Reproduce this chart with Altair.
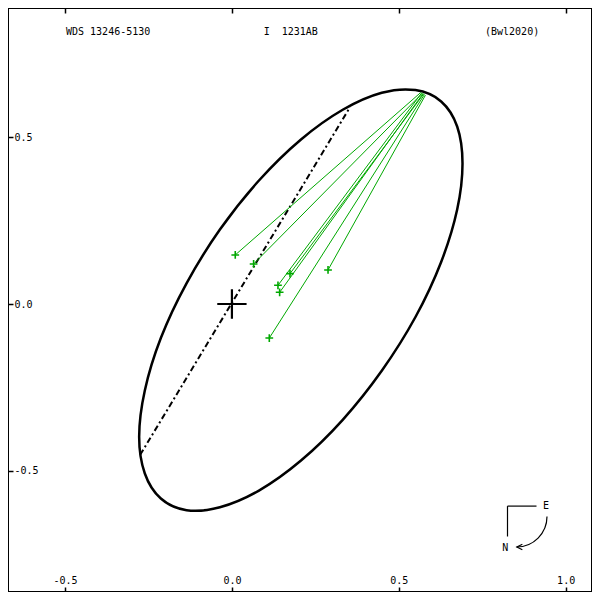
import altair as alt
import pandas as pd

# ---- data ----
ell_x = [0.691, 0.675, 0.627, 0.550, 0.449, 0.332, 0.207, 0.081, -0.036, -0.136, -0.213, -0.261,
         -0.278, -0.261, -0.213, -0.136, -0.036, 0.081, 0.207, 0.332, 0.449, 0.550, 0.627, 0.675]
ell_y = [0.421, 0.283, 0.126, -0.039, -0.200, -0.347, -0.469, -0.559, -0.609, -0.618, -0.583, -0.508,
         -0.398, -0.259, -0.102, 0.062, 0.223, 0.370, 0.493, 0.582, 0.633, 0.641, 0.607, 0.532]

obs_x = [0.010, 0.065, 0.174, 0.138, 0.143, 0.288, 0.112]
obs_y = [0.147, 0.120, 0.091, 0.056, 0.035, 0.102, -0.102]
pred_x = [0.566, 0.571, 0.575, 0.569, 0.573, 0.580, 0.577]
pred_y = [0.634, 0.632, 0.630, 0.633, 0.631, 0.626, 0.628]

node_x = [-0.275, 0.354]
node_y = [-0.452, 0.590]

primary_x = [0.0]
primary_y = [0.0]

x_ticks = [-0.5, 0.0, 0.5, 1.0]
y_ticks = [0.5, 0.0, -0.5]

titles = ["WDS 13246-5130", "I\u00a0\u00a01231AB", "(Bwl2020)"]
compass_labels = ["E", "N"]

# ---- tables ----
ell_df = pd.DataFrame({"i": list(range(len(ell_x))), "x": ell_x, "y": ell_y})
obs_df = pd.DataFrame({"ox": obs_x, "oy": obs_y, "px": pred_x, "py": pred_y})
node_df = pd.DataFrame({"x": node_x, "y": node_y})
prim_df = pd.DataFrame({"x": primary_x, "y": primary_y})
one = pd.DataFrame({"a": [0]})

GREEN = "#00a800"
FONT = "DejaVu Sans Mono"
PLUS = "M-1,0L1,0M0,-1L0,1"
LBL = "datum.value < 0 ? '-' + format(-datum.value, '.1f') : format(datum.value, '.1f')"

xs = alt.Scale(domain=[-0.671, 1.079], nice=False, zero=False)
ys = alt.Scale(domain=[-0.863, 0.887], nice=False, zero=False)

ax_bottom = alt.Axis(orient="bottom", values=x_ticks, title=None, grid=False, domain=False,
                     offset=-5, tickSize=5, tickColor="black", tickWidth=1.5,
                     labelPadding=-12, labelBaseline="middle", labelFont=FONT, labelFontSize=10,
                     labelColor="black", labelExpr=LBL, labelOverlap=False, labelFlush=False)
ax_top = alt.Axis(orient="top", values=x_ticks, title=None, grid=False, domain=False,
                  offset=-5, tickSize=5, tickColor="black", tickWidth=1.5, labels=False)
ax_left = alt.Axis(orient="left", values=y_ticks, title=None, grid=False, domain=False,
                   offset=-5, tickSize=5, tickColor="black", tickWidth=1.5,
                   labelPadding=-6, labelAlign="left", labelBaseline="middle",
                   labelFont=FONT, labelFontSize=10, labelColor="black", labelExpr=LBL,
                   labelOverlap=False, labelFlush=False)

ellipse = alt.Chart(ell_df).mark_line(interpolate="cardinal-closed", color="black",
                                      strokeWidth=2.5).encode(
    x=alt.X("x:Q", scale=xs, axis=ax_bottom),
    y=alt.Y("y:Q", scale=ys, axis=ax_left),
    order="i:Q",
)

nodes = alt.Chart(node_df).mark_line(color="black", strokeWidth=2,
                                     strokeDash=[6, 3, 2, 3]).encode(
    x=alt.X("x:Q", scale=xs, axis=ax_top),
    y=alt.Y("y:Q", scale=ys, axis=None),
)

obs_lines = alt.Chart(obs_df).mark_rule(color=GREEN, strokeWidth=1).encode(
    x=alt.X("ox:Q", scale=xs, axis=None),
    y=alt.Y("oy:Q", scale=ys, axis=None),
    x2="px:Q",
    y2="py:Q",
)

obs_pts = alt.Chart(obs_df).mark_point(shape=PLUS, size=60, filled=False, stroke=GREEN,
                                       strokeWidth=1.6, opacity=1).encode(
    x=alt.X("ox:Q", scale=xs, axis=None),
    y=alt.Y("oy:Q", scale=ys, axis=None),
)

primary = alt.Chart(prim_df).mark_point(shape=PLUS, size=860, filled=False, stroke="black",
                                        strokeWidth=2.2, opacity=1).encode(
    x=alt.X("x:Q", scale=xs, axis=None),
    y=alt.Y("y:Q", scale=ys, axis=None),
)

def label(txt, x, y, align="left"):
    return alt.Chart(one).mark_text(text=txt, font=FONT, fontSize=10, color="black",
                                    align=align, baseline="middle").encode(
        x=alt.value(x), y=alt.value(y))

t1 = label(titles[0], 58, 23.5)
t2 = label(titles[1], 255.7, 23.5)
t3 = label(titles[2], 477, 23.5)

c_h = alt.Chart(one).mark_rule(color="black", strokeWidth=1.2).encode(
    x=alt.value(499.5), x2=alt.value(528.5), y=alt.value(498.1))
c_v = alt.Chart(one).mark_rule(color="black", strokeWidth=1.2).encode(
    x=alt.value(499.5), y=alt.value(498.1), y2=alt.value(528.5))
c_e = label(compass_labels[0], 538, 498, align="center")
c_n = label(compass_labels[1], 497.2, 539.5, align="center")
c_arc = alt.Chart(one).mark_arc(theta=1.5708, theta2=3.1416, radius=30.4, radius2=30.4,
                                stroke="black", strokeWidth=1.2, fillOpacity=0).encode(
    x=alt.value(508.6), y=alt.value(508.6))
c_head = alt.Chart(one).mark_point(shape="M1,-1L-1,0L1,1", size=30, filled=False,
                                   stroke="black", strokeWidth=1.2, opacity=1).encode(
    x=alt.value(511.6), y=alt.value(539))

chart = alt.layer(
    ellipse, nodes, obs_lines, obs_pts, primary, t1, t2, t3,
    c_h, c_v, c_e, c_n, c_arc, c_head
).resolve_axis(x="independent", y="independent").properties(
    width=584, height=584, padding=0,
    autosize=alt.AutoSizeParams(type="none"),
    background="white",
).configure_view(stroke="black", strokeWidth=2)

chart.save("out.html", embed_options={"renderer": "svg", "actions": False})
